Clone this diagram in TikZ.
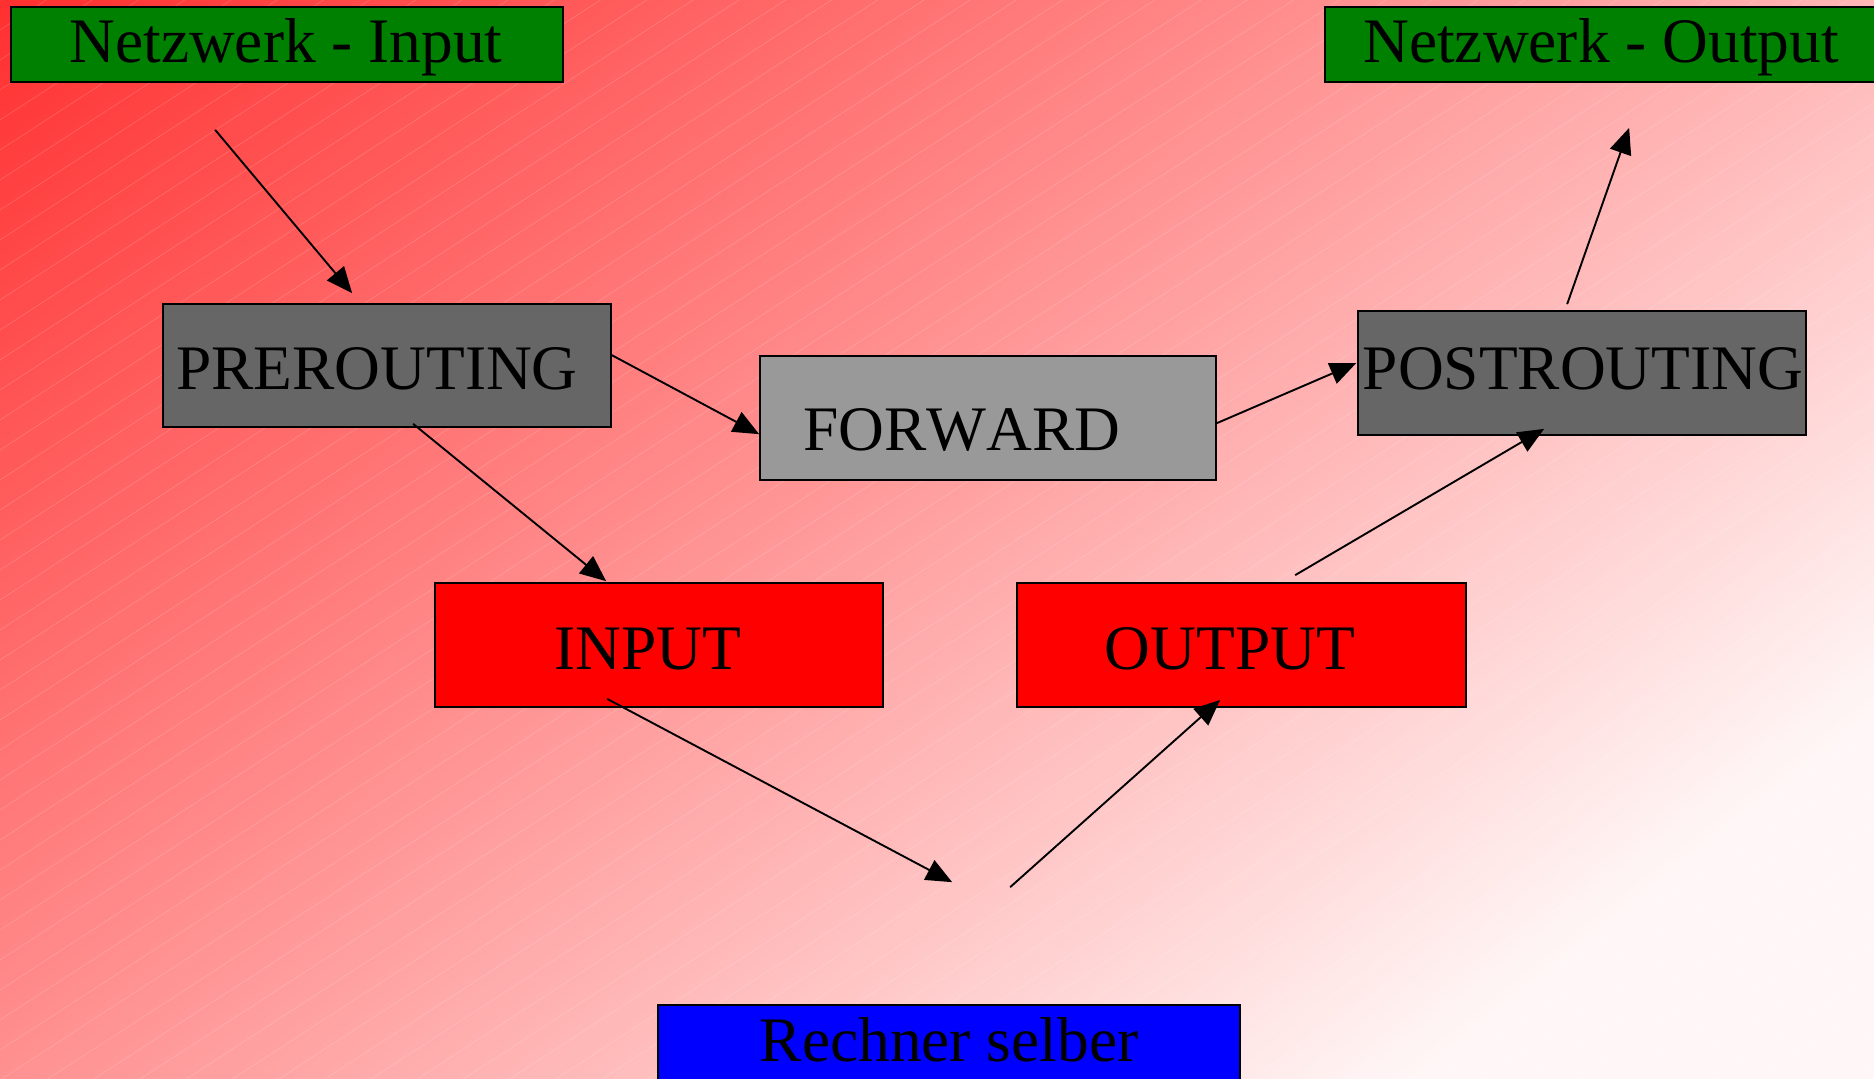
\documentclass[tikz,border=0pt]{standalone}
\usepackage{fontspec}
\setmainfont[Kerning=Off]{Liberation Serif}
\usetikzlibrary{arrows.meta,calc}
\definecolor{netgreen}{RGB}{0,128,0}
\definecolor{darkgr}{RGB}{102,102,102}
\definecolor{lightgr}{RGB}{153,153,153}
\tikzset{
  box/.style={draw=black, line width=0.85pt, inner sep=0pt, rectangle},
  lbl/.style={anchor=base, inner sep=0pt, font=\fontsize{31.7}{38}\selectfont},
  arr/.style={-{Triangle[length=13pt,width=11pt]}, line width=0.95pt, black},
  stripe/.style={white, opacity=0.18, line width=0.3pt},
}
\begin{document}
\begin{tikzpicture}[x=0.5pt,y=-0.5pt]
\useasboundingbox (0,0) rectangle (1874,1078);
% background gradient (bands perpendicular to direction u=(0.625,0.781))
\begin{scope}
\clip (0,0) rectangle (1874,1078);
\foreach \t in {0,8,...,2024} {
  \pgfmathtruncatemacro\g{min(247,48+0.1153*(\t+4))}
  \definecolor{bandc}{RGB}{255,\g,\g}
  \fill[bandc] ({0.625*\t-0.781*2600},{0.781*\t+0.625*2600})
    -- ({0.625*\t+0.781*2600},{0.781*\t-0.625*2600})
    -- ({0.625*(\t+9)+0.781*2600},{0.781*(\t+9)-0.625*2600})
    -- ({0.625*(\t+9)-0.781*2600},{0.781*(\t+9)+0.625*2600}) -- cycle;
}
\foreach \k in {0,30,...,2310} {
  \draw[stripe] (0,\k) -- (1874,{\k-1217});
}
\end{scope}
% boxes
\node[box, fill=netgreen, minimum width=276pt, minimum height=37.5pt] (netin) at (287,44.5) {};
\node[box, fill=netgreen, minimum width=275.5pt, minimum height=37.5pt] (netout) at (1600.5,44.5) {};
\node[box, fill=darkgr, minimum width=224pt, minimum height=61.5pt] (pre) at (387,365.5) {};
\node[box, fill=lightgr, minimum width=228pt, minimum height=62pt] (fwd) at (988,418) {};
\node[box, fill=darkgr, minimum width=224pt, minimum height=62pt] (post) at (1582,373) {};
\node[box, fill=red, minimum width=224pt, minimum height=62pt] (inp) at (659,645) {};
\node[box, fill=red, minimum width=224.5pt, minimum height=62pt] (outp) at (1241.5,645) {};
\node[box, fill=blue, minimum width=291pt, minimum height=42.5pt] (rech) at (949,1047.5) {};
% labels
\node[lbl] (netinT) at (286,62) {Netzwerk - Input};
\node[lbl] (netoutT) at (1601,62) {Netzwerk - Output};
\node[lbl] (preT) at (377,389) {PREROUTING};
\node[lbl] (fwdT) at (962,450) {FORWARD};
\node[lbl] (postT) at (1583,389) {POSTROUTING};
\node[lbl] (inpT) at (648,669) {INPUT};
\node[lbl] (outpT) at (1230,669) {OUTPUT};
\node[lbl] (rechT) at (949,1061) {Rechner selber};
% connector ends
\coordinate (c1a) at ($(netin.south west)+(205,47)$);
\coordinate (c1b) at ($(pre.north west)+(190,-10)$);
\coordinate (c2a) at ($(pre.north east)+(0,52)$);
\coordinate (c2b) at ($(fwd.north west)+(0,79)$);
\coordinate (c3a) at ($(pre.south west)+(251,-4)$);
\coordinate (c3b) at ($(inp.north west)+(172,-1)$);
\coordinate (c4a) at ($(fwd.north east)+(0,68)$);
\coordinate (c4b) at ($(post.north west)+(-1,53)$);
\coordinate (c5a) at ($(post.north west)+(210,-6)$);
\coordinate (c5b) at ($(netout.south west)+(305,45)$);
\coordinate (c6a) at ($(outp.north west)+(279,-7)$);
\coordinate (c6b) at ($(post.south west)+(187,-7)$);
\coordinate (c7a) at ($(inp.south west)+(173,-9)$);
\coordinate (c7b) at ($(rech.north west)+(295,-122)$);
\coordinate (c8a) at ($(rech.north west)+(353,-117)$);
\coordinate (c8b) at ($(outp.south west)+(204,-8)$);
% connectors
\draw[arr] (c1a) -- (c1b);
\draw[arr] (c2a) -- (c2b);
\draw[arr] (c3a) -- (c3b);
\draw[arr] (c4a) -- (c4b);
\draw[arr] (c5a) -- (c5b);
\draw[arr] (c6a) -- (c6b);
\draw[arr] (c7a) -- (c7b);
\draw[arr] (c8a) -- (c8b);
\end{tikzpicture}
\end{document}
